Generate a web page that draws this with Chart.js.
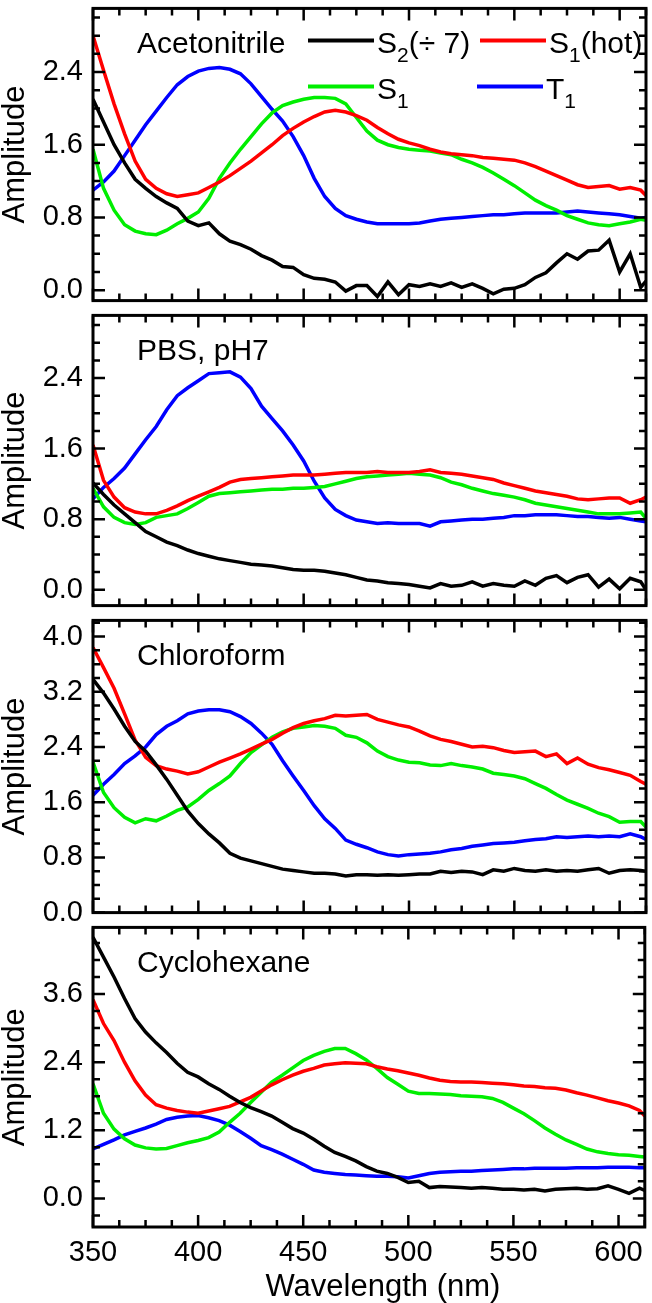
<!DOCTYPE html>
<html>
<head>
<meta charset="utf-8">
<script src="https://cdn.jsdelivr.net/npm/chart.js@4.4.0/dist/chart.umd.min.js"></script>
<style>
  html, body { margin: 0; padding: 0; background: #fff; }
  #wrap { position: relative; width: 652px; height: 1303px; overflow: hidden; }
  canvas { position: absolute; left: 0; }
</style>
</head>
<body>
<div id="wrap">
  <canvas id="p1"></canvas>
  <canvas id="p2"></canvas>
  <canvas id="p3"></canvas>
  <canvas id="p4"></canvas>
</div>
<script>
// wavelength grid (nm), shared by every panel
const wavelength = [350,355,360,365,370,375,380,385,390,395,
  400,405,410,415,420,425,430,435,440,445,
  450,455,460,465,470,475,480,485,490,495,
  500,505,510,515,520,525,530,535,540,545,
  550,555,560,565,570,575,580,585,590,595,
  600,605,610,612.5];

// Acetonitrile
const acnS2 = [2.10,1.85,1.60,1.40,1.22,1.12,1.03,0.96,0.90,0.76,
  0.71,0.74,0.62,0.54,0.50,0.45,0.38,0.33,0.26,0.25,
  0.17,0.13,0.12,0.09,-0.01,0.05,0.05,-0.07,0.09,-0.05,
  0.06,0.04,0.07,0.04,0.08,0.03,0.07,0.02,-0.04,0.01,
  0.02,0.06,0.14,0.19,0.30,0.40,0.34,0.43,0.44,0.55,
  0.20,0.40,0.03,0.10];
const acnHot = [2.80,2.42,2.05,1.72,1.42,1.22,1.12,1.06,1.03,1.05,
  1.07,1.13,1.19,1.26,1.34,1.42,1.51,1.60,1.70,1.78,
  1.85,1.91,1.96,1.98,1.96,1.92,1.87,1.79,1.72,1.66,
  1.62,1.59,1.55,1.52,1.50,1.49,1.48,1.46,1.45,1.44,
  1.43,1.40,1.36,1.31,1.26,1.21,1.16,1.13,1.14,1.15,
  1.11,1.13,1.10,1.04];
const acnS1 = [1.55,1.12,0.88,0.72,0.65,0.62,0.61,0.66,0.73,0.79,
  0.86,1.01,1.23,1.40,1.55,1.69,1.83,1.95,2.03,2.07,
  2.10,2.12,2.12,2.11,2.05,1.90,1.75,1.65,1.60,1.57,
  1.55,1.54,1.53,1.51,1.49,1.44,1.40,1.35,1.29,1.22,
  1.15,1.07,0.99,0.93,0.88,0.82,0.78,0.74,0.72,0.71,
  0.73,0.75,0.78,0.77];
const acnT1 = [1.10,1.19,1.31,1.48,1.65,1.82,1.97,2.12,2.26,2.35,
  2.41,2.44,2.45,2.43,2.38,2.27,2.13,1.99,1.86,1.69,
  1.48,1.23,1.03,0.90,0.82,0.78,0.75,0.73,0.73,0.73,
  0.73,0.74,0.76,0.78,0.79,0.80,0.81,0.82,0.83,0.83,
  0.84,0.85,0.85,0.85,0.85,0.86,0.87,0.86,0.85,0.84,
  0.83,0.81,0.79,0.80];

// PBS, pH7
const pbsS2 = [1.21,1.08,0.96,0.86,0.76,0.66,0.60,0.54,0.50,0.45,
  0.41,0.38,0.35,0.33,0.31,0.29,0.28,0.27,0.25,0.23,
  0.22,0.22,0.21,0.19,0.17,0.14,0.11,0.10,0.08,0.07,
  0.06,0.04,0.02,0.07,0.04,0.05,0.09,0.04,0.07,0.05,
  0.04,0.10,0.05,0.13,0.16,0.08,0.14,0.17,0.03,0.12,
  0.01,0.13,0.09,0.00];
const pbsHot = [1.64,1.24,1.05,0.93,0.88,0.86,0.86,0.90,0.95,1.01,
  1.06,1.11,1.16,1.22,1.25,1.26,1.27,1.28,1.29,1.30,
  1.30,1.30,1.31,1.32,1.33,1.33,1.33,1.34,1.33,1.33,
  1.33,1.34,1.36,1.33,1.32,1.31,1.29,1.27,1.25,1.21,
  1.18,1.15,1.12,1.10,1.08,1.06,1.03,1.02,1.03,1.04,
  1.04,0.98,1.02,1.05];
const pbsS1 = [1.15,0.94,0.82,0.76,0.74,0.76,0.82,0.84,0.86,0.92,
  0.99,1.06,1.09,1.10,1.11,1.12,1.13,1.14,1.14,1.15,
  1.15,1.16,1.17,1.20,1.23,1.26,1.28,1.29,1.30,1.31,
  1.32,1.31,1.30,1.27,1.22,1.19,1.15,1.12,1.09,1.07,
  1.05,1.02,0.98,0.96,0.94,0.92,0.90,0.88,0.86,0.86,
  0.86,0.87,0.88,0.81];
const pbsT1 = [1.03,1.16,1.26,1.38,1.54,1.70,1.85,2.04,2.20,2.29,
  2.37,2.45,2.46,2.47,2.41,2.28,2.08,1.94,1.80,1.64,
  1.46,1.23,1.04,0.91,0.84,0.79,0.77,0.75,0.76,0.75,
  0.75,0.75,0.72,0.77,0.78,0.79,0.80,0.80,0.81,0.82,
  0.84,0.84,0.85,0.85,0.85,0.84,0.83,0.83,0.82,0.81,
  0.82,0.80,0.78,0.77];

// Chloroform
const chlS2 = [3.38,3.18,2.95,2.70,2.48,2.34,2.14,1.93,1.70,1.47,
  1.29,1.14,1.01,0.86,0.79,0.75,0.71,0.67,0.63,0.61,
  0.59,0.57,0.57,0.56,0.53,0.55,0.55,0.54,0.55,0.54,
  0.55,0.56,0.56,0.60,0.58,0.60,0.59,0.55,0.62,0.60,
  0.64,0.61,0.60,0.62,0.60,0.61,0.60,0.62,0.64,0.57,
  0.61,0.62,0.61,0.60];
const chlHot = [3.84,3.55,3.25,2.88,2.50,2.25,2.13,2.08,2.05,2.01,
  2.04,2.11,2.18,2.24,2.30,2.37,2.44,2.51,2.60,2.68,
  2.74,2.78,2.81,2.86,2.85,2.86,2.87,2.80,2.76,2.72,
  2.69,2.63,2.56,2.51,2.48,2.44,2.40,2.41,2.39,2.35,
  2.32,2.33,2.34,2.26,2.30,2.16,2.24,2.15,2.10,2.07,
  2.03,1.99,1.90,1.86];
const chlS1 = [2.18,1.74,1.52,1.38,1.30,1.36,1.33,1.40,1.48,1.53,
  1.64,1.77,1.87,1.98,2.16,2.32,2.43,2.54,2.62,2.67,
  2.69,2.71,2.70,2.67,2.57,2.54,2.46,2.34,2.26,2.21,
  2.18,2.17,2.14,2.13,2.16,2.13,2.11,2.08,2.02,2.00,
  1.98,1.94,1.87,1.80,1.71,1.63,1.57,1.51,1.44,1.39,
  1.31,1.32,1.32,1.24];
const chlT1 = [1.70,1.86,2.00,2.16,2.27,2.40,2.58,2.70,2.78,2.88,
  2.92,2.94,2.94,2.91,2.84,2.74,2.60,2.44,2.20,1.98,
  1.77,1.55,1.36,1.22,1.05,0.99,0.94,0.88,0.84,0.82,
  0.84,0.85,0.86,0.88,0.91,0.93,0.96,0.98,1.00,1.01,
  1.02,1.04,1.06,1.07,1.10,1.09,1.10,1.11,1.10,1.11,
  1.10,1.14,1.10,1.06];

// Cyclohexane
const cycS2 = [4.60,4.25,3.90,3.52,3.17,2.93,2.74,2.57,2.38,2.22,
  2.14,2.02,1.92,1.80,1.69,1.60,1.53,1.45,1.34,1.23,
  1.15,1.04,0.92,0.81,0.74,0.66,0.56,0.48,0.44,0.37,
  0.28,0.30,0.19,0.21,0.20,0.19,0.18,0.19,0.18,0.16,
  0.16,0.15,0.16,0.13,0.16,0.17,0.18,0.16,0.17,0.22,
  0.16,0.09,0.18,0.14];
const cycHot = [3.50,3.08,2.78,2.40,2.07,1.82,1.65,1.59,1.55,1.52,
  1.50,1.54,1.58,1.62,1.70,1.78,1.89,2.00,2.09,2.17,
  2.24,2.29,2.35,2.37,2.39,2.38,2.37,2.32,2.28,2.25,
  2.21,2.17,2.12,2.08,2.06,2.05,2.05,2.04,2.03,2.02,
  2.00,1.98,1.97,1.95,1.94,1.91,1.86,1.82,1.77,1.72,
  1.68,1.63,1.55,1.45];
const cycS1 = [2.02,1.50,1.22,1.05,0.94,0.89,0.87,0.88,0.93,0.98,
  1.02,1.07,1.17,1.34,1.50,1.69,1.87,2.05,2.17,2.30,
  2.43,2.52,2.59,2.64,2.64,2.55,2.44,2.29,2.13,2.01,
  1.89,1.85,1.85,1.84,1.83,1.81,1.80,1.79,1.76,1.69,
  1.59,1.49,1.37,1.24,1.13,1.03,0.95,0.87,0.82,0.79,
  0.77,0.76,0.74,0.73];
const cycT1 = [0.87,0.95,1.03,1.12,1.18,1.24,1.31,1.39,1.43,1.45,
  1.46,1.42,1.37,1.29,1.18,1.06,0.93,0.86,0.78,0.69,
  0.60,0.50,0.46,0.44,0.42,0.41,0.40,0.39,0.39,0.38,
  0.36,0.40,0.44,0.46,0.47,0.48,0.48,0.49,0.50,0.51,
  0.52,0.52,0.53,0.53,0.53,0.53,0.54,0.54,0.54,0.55,
  0.55,0.55,0.54,0.54];

const seriesLabels = ['S\u2082(\u00f7 7)', 'S\u2081(hot)', 'S\u2081', 'T\u2081'];
const seriesColors = ['#000000', '#ff0000', '#00ee00', '#0000ff'];

// tick labels
const xMajorTicks = [350, 400, 450, 500, 550, 600];
const yTicksAcn = [0.0, 0.8, 1.6, 2.4];
const yTicksPbs = [0.0, 0.8, 1.6, 2.4];
const yTicksChl = [0.0, 0.8, 1.6, 2.4, 3.2, 4.0];
const yTicksCyc = [0.0, 1.2, 2.4, 3.6];

const FONT = '"Liberation Sans", Arial, Helvetica, sans-serif';
Chart.defaults.font.family = FONT;
Chart.defaults.color = '#000';

const panels = [
  { id: 'p1', name: 'Acetonitrile', series: [acnS2, acnHot, acnS1, acnT1],
    yMin: -0.115, yMax: 3.10, major: yTicksAcn, minorStep: 0.2, top: 1.5, bottom: 308, legend: true },
  { id: 'p2', name: 'PBS, pH7', series: [pbsS2, pbsHot, pbsS1, pbsT1],
    yMin: -0.18, yMax: 3.11, major: yTicksPbs, minorStep: 0.2, top: 308, bottom: 613 },
  { id: 'p3', name: 'Chloroform', series: [chlS2, chlHot, chlS1, chlT1],
    yMin: 0, yMax: 4.234, major: yTicksChl, minorStep: 0.2, top: 613, bottom: 920 },
  { id: 'p4', name: 'Cyclohexane', series: [cycS2, cycHot, cycS1, cycT1],
    yMin: -0.504, yMax: 4.774, major: yTicksCyc, minorStep: 0.3, top: 920, bottom: 1227, xAxis: true }
];

// frame with inward ticks on all four sides
const framePlugin = {
  id: 'frame',
  afterDatasetsDraw(chart, args, opts) {
    const { ctx, chartArea: a, scales } = chart;
    const x = scales.x, y = scales.y;
    ctx.save();
    ctx.strokeStyle = '#000';
    ctx.lineWidth = 2.5;
    ctx.beginPath();
    for (let w = 350; w <= 612.5 + 1e-6; w += 12.5) {
      const px = x.getPixelForValue(w);
      const len = (w % 50 === 0) ? 12 : 7;
      ctx.moveTo(px, a.bottom); ctx.lineTo(px, a.bottom - len);
      ctx.moveTo(px, a.top); ctx.lineTo(px, a.top + len);
    }
    const step = opts.minorStep;
    const start = Math.ceil(opts.yMin / step - 1e-6);
    for (let k = start; k * step <= opts.yMax + 1e-6; k++) {
      const v = Math.round(k * step * 100) / 100;
      const py = y.getPixelForValue(v);
      const isMajor = opts.major.some(m => Math.abs(m - v) < 1e-6);
      const len = isMajor ? 12 : 7;
      ctx.moveTo(a.left, py); ctx.lineTo(a.left + len, py);
      ctx.moveTo(a.right, py); ctx.lineTo(a.right - len, py);
    }
    ctx.stroke();
    ctx.lineWidth = 3;
    ctx.strokeRect(a.left, a.top, a.right - a.left, a.bottom - a.top);
    ctx.restore();
  }
};

const SUB = { '\u2080': '0', '\u2081': '1', '\u2082': '2', '\u2083': '3' };
function drawRich(ctx, text, x, y, size) {
  let cx = x;
  for (const ch of text) {
    if (SUB[ch]) {
      ctx.font = Math.round(size * 0.7) + 'px ' + FONT;
      ctx.fillText(SUB[ch], cx, y + 9);
      cx += ctx.measureText(SUB[ch]).width;
    } else {
      ctx.font = size + 'px ' + FONT;
      ctx.fillText(ch, cx, y);
      cx += ctx.measureText(ch).width;
    }
  }
}

// panel name, (first panel) legend, (last panel) x title
const textPlugin = {
  id: 'panelText',
  afterDraw(chart, args, opts) {
    const { ctx, chartArea: a } = chart;
    ctx.save();
    ctx.fillStyle = '#000';
    ctx.textBaseline = 'alphabetic';
    ctx.textAlign = 'left';
    ctx.font = '30px ' + FONT;
    ctx.fillText(opts.name, a.left + 44, a.top + 45);
    if (opts.legend) {
      const items = chart.data.datasets;
      const slots = [[215, 32], [387, 32], [215, 78], [384, 78]];
      items.forEach((ds, i) => {
        const [lx, ly] = slots[i];
        ctx.strokeStyle = ds.borderColor;
        ctx.lineWidth = 4;
        ctx.beginPath();
        ctx.moveTo(a.left + lx, a.top + ly);
        ctx.lineTo(a.left + lx + 66, a.top + ly);
        ctx.stroke();
        drawRich(ctx, ds.label, a.left + lx + 69, a.top + ly + 13, 30);
      });
    }
    if (opts.xTitle) {
      ctx.textAlign = 'center';
      ctx.textBaseline = 'middle';
      ctx.font = '31px ' + FONT;
      ctx.fillText(opts.xTitle, (a.left + a.right) / 2 + 14, chart.height - 16);
    }
    ctx.restore();
  }
};

panels.forEach(p => {
  const canvas = document.getElementById(p.id);
  const canvasTop = Math.floor(p.top) - 20;
  const canvasBottom = p.xAxis ? 1303 : p.bottom + 20;
  canvas.width = 652;
  canvas.height = canvasBottom - canvasTop;
  canvas.style.width = '652px';
  canvas.style.height = (canvasBottom - canvasTop) + 'px';
  canvas.style.top = canvasTop + 'px';

  new Chart(canvas, {
    type: 'line',
    data: {
      datasets: p.series.map((vals, k) => ({
        label: seriesLabels[k],
        data: wavelength.map((w, j) => ({ x: w, y: vals[j] })),
        borderColor: seriesColors[k],
        borderWidth: 3.5,
        pointRadius: 0,
        tension: 0,
        fill: false
      }))
    },
    options: {
      responsive: false,
      maintainAspectRatio: false,
      animation: false,
      devicePixelRatio: 1,
      layout: { padding: { top: p.top - canvasTop, bottom: p.xAxis ? 0 : canvasBottom - p.bottom, left: 0, right: 6 } },
      plugins: {
        legend: { display: false },
        tooltip: { enabled: false },
        frame: { yMin: p.yMin, yMax: p.yMax, major: p.major, minorStep: p.minorStep },
        panelText: { name: p.name, legend: !!p.legend, xTitle: p.xAxis ? 'Wavelength (nm)' : null }
      },
      scales: {
        x: {
          type: 'linear', min: 350, max: 612.5,
          display: !!p.xAxis,
          grid: { display: false, drawTicks: false },
          border: { display: false },
          afterBuildTicks: s => { s.ticks = xMajorTicks.map(v => ({ value: v })); },
          afterFit: s => { if (p.xAxis) s.height = 76; },
          ticks: { font: { size: 29 }, color: '#000', padding: 9, maxRotation: 0, autoSkip: false, callback: v => String(v) },
          title: { display: false }
        },
        y: {
          min: p.yMin, max: p.yMax,
          grid: { display: false, drawTicks: false },
          border: { display: false },
          afterBuildTicks: s => { s.ticks = p.major.map(v => ({ value: v })); },
          afterFit: s => { s.width = 93; },
          ticks: { font: { size: 29 }, color: '#000', padding: 10, autoSkip: false, callback: v => v.toFixed(1) },
          title: { display: true, text: 'Amplitude', font: { size: 31, lineHeight: 1.0 }, color: '#000', padding: 0 }
        }
      }
    },
    plugins: [framePlugin, textPlugin]
  });
});
</script>
</body>
</html>
